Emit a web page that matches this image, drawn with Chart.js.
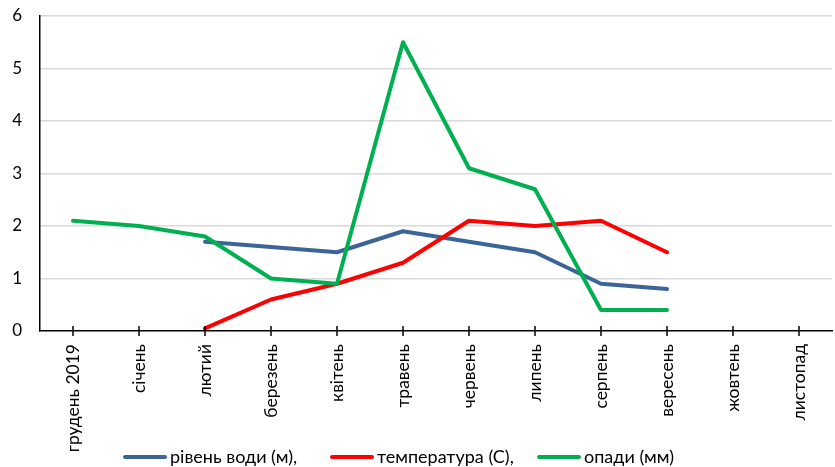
<!DOCTYPE html>
<html>
<head>
<meta charset="utf-8">
<script src="https://cdn.jsdelivr.net/npm/chart.js@4"></script>
<style>
	body { margin: 0; background: #fff; }
	#wrap { width: 835px; height: 467px; }
</style>
</head>
<body>
<div id="wrap"><canvas id="chart"></canvas></div>
<script>
const months = ['грудень 2019', 'січень', 'лютий', 'березень', 'квітень', 'травень',
	'червень', 'липень', 'серпень', 'вересень', 'жовтень', 'листопад'];
const waterLevel = [null, null, 1.7, 1.6, 1.5, 1.9, 1.7, 1.5, 0.9, 0.8, null, null];
const temperature = [null, null, 0.05, 0.6, 0.9, 1.3, 2.1, 2.0, 2.1, 1.5, null, null];
const rainfall = [2.1, 2.0, 1.8, 1.0, 0.9, 5.5, 3.1, 2.7, 0.4, 0.4, null, null];
const seriesNames = ['рівень води (м),', 'температура (С),', 'опади (мм)'];
const seriesColors = ['#3B6499', '#FF0000', '#00B050'];

const font = 'Lato, "Open Sans", sans-serif';

// ticks crossing the category axis
const crossTicks = {
	id: 'crossTicks',
	afterDraw(chart) {
		const ctx = chart.ctx;
		const x = chart.scales.x;
		const bottom = chart.chartArea.bottom;
		ctx.save();
		ctx.strokeStyle = '#000';
		ctx.lineWidth = 1.5;
		x.ticks.forEach((t, i) => {
			const px = x.getPixelForTick(i);
			ctx.beginPath();
			ctx.moveTo(px, bottom - 5);
			ctx.lineTo(px, bottom + 5);
			ctx.stroke();
		});
		ctx.restore();
	}
};

// legend drawn like the excel one: line sample + text, equal slots
const lineLegend = {
	id: 'lineLegend',
	afterDraw(chart) {
		const ctx = chart.ctx;
		const y = 457;
		ctx.save();
		ctx.font = '18px ' + font;
		ctx.textBaseline = 'middle';
		chart.data.datasets.forEach((ds, i) => {
			const x0 = 125 + i * 207;
			ctx.strokeStyle = ds.borderColor;
			ctx.lineWidth = 4;
			ctx.lineCap = 'round';
			ctx.beginPath();
			ctx.moveTo(x0, y);
			ctx.lineTo(x0 + 40, y);
			ctx.stroke();
			ctx.fillStyle = '#000';
			ctx.fillText(ds.label, x0 + 45, y);
		});
		ctx.restore();
	}
};

const makeSet = (i, data, order) => ({
	label: seriesNames[i],
	data: data,
	borderColor: seriesColors[i],
	backgroundColor: seriesColors[i],
	borderWidth: 4,
	borderCapStyle: 'round',
	borderJoinStyle: 'round',
	pointRadius: 0,
	tension: 0,
	spanGaps: false,
	order: order
});

window.onload = () => {
	const ctx = document.getElementById('chart').getContext('2d');
	new Chart(ctx, {
		type: 'line',
		data: {
			labels: months,
			datasets: [
				makeSet(0, waterLevel, 3),
				makeSet(1, temperature, 2),
				makeSet(2, rainfall, 1)
			]
		},
		options: {
			responsive: true,
			maintainAspectRatio: false,
			animation: false,
			layout: { padding: { top: 16, right: 3, left: 0, bottom: 0 } },
			plugins: {
				legend: { display: false },
				tooltip: { enabled: false }
			},
			scales: {
				x: {
					offset: true,
					grid: { display: false, offset: false, drawTicks: false },
					border: { color: '#000', width: 1.5 },
					ticks: {
						color: '#000',
						font: { family: font, size: 17.5 },
						maxRotation: 90,
						minRotation: 90,
						padding: 13,
						autoSkip: false
					},
					afterFit: (scale) => {
						scale.height = 136;
						scale.paddingTop = 0;
						scale.paddingBottom = 0;
					}
				},
				y: {
					min: 0,
					max: 6,
					grid: {
						color: (c) => c.tick && c.tick.value === 0 ? 'rgba(0,0,0,0)' : '#D9D9D9',
						lineWidth: 1.5,
						drawTicks: false
					},
					border: { color: '#000', width: 1.5 },
					ticks: {
						stepSize: 1,
						color: '#000',
						font: { family: font, size: 17 },
						padding: 18
					},
					afterFit: (scale) => {
						scale.width = 40;
						scale.paddingTop = 0;
						scale.paddingBottom = 0;
					}
				}
			}
		},
		plugins: [crossTicks, lineLegend]
	});
};
</script>
</body>
</html>
